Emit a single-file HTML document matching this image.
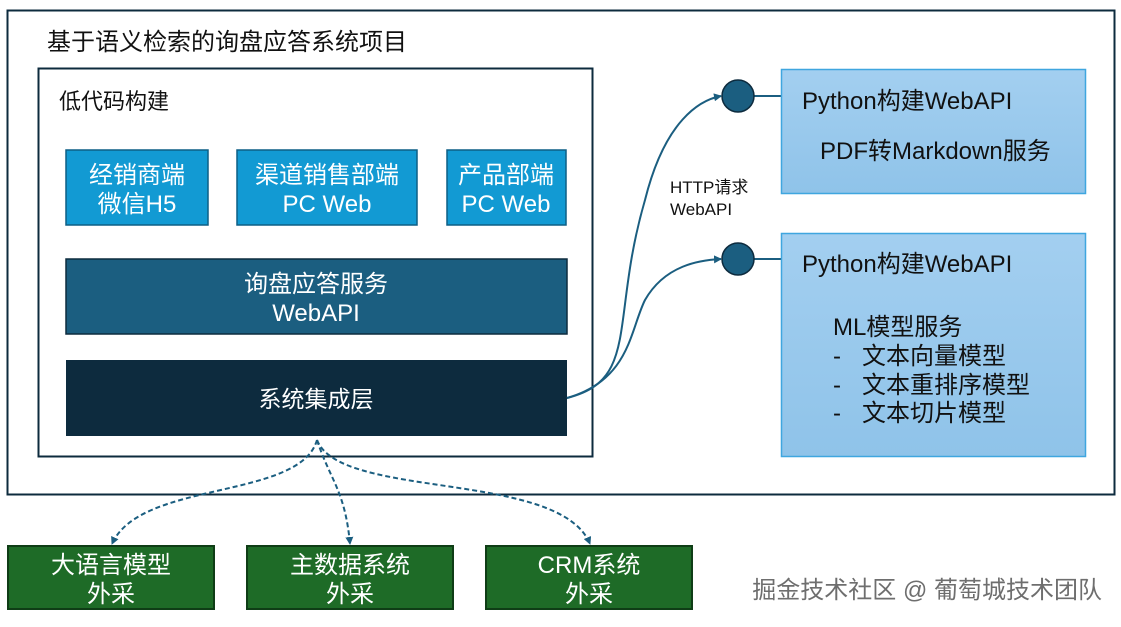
<!DOCTYPE html>
<html><head><meta charset="utf-8"><style>
body{margin:0;background:#fff;width:1121px;height:622px;overflow:hidden}
svg text{font-family:"Liberation Sans","Noto Sans CJK SC",sans-serif}
</style></head><body>
<svg width="1121" height="622" xmlns="http://www.w3.org/2000/svg">
<defs>
<linearGradient id="g" x1="0" y1="0" x2="0" y2="1"><stop offset="0" stop-color="#a3cff0"/><stop offset="1" stop-color="#8fc3e9"/></linearGradient>
<marker id="a" markerWidth="8" markerHeight="8" refX="7" refY="4" orient="auto" markerUnits="userSpaceOnUse"><path d="M0,0 L8,4 L0,8 z" fill="#1b5e80"/></marker>
</defs>
<rect x="7.5" y="10.5" width="1107" height="484" fill="#fff" stroke="#0d2b3e" stroke-width="2"/>
<text x="47" y="50" font-size="24" fill="#111">基于语义检索的询盘应答系统项目</text>
<rect x="38.5" y="68.5" width="554" height="388" fill="#fff" stroke="#0d2b3e" stroke-width="2"/>
<text x="59" y="109" font-size="22" fill="#111">低代码构建</text>
<g fill="#129ad3" stroke="#0d5f85" stroke-width="1.5">
<rect x="66" y="150" width="142" height="75"/><rect x="237" y="150" width="180" height="75"/><rect x="447" y="150" width="119" height="75"/></g>
<g fill="#fff" font-size="24" text-anchor="middle">
<text x="137" y="183">经销商端</text><text x="137" y="212">微信H5</text>
<text x="327" y="183">渠道销售部端</text><text x="327" y="212">PC Web</text>
<text x="506" y="183">产品部端</text><text x="506" y="212">PC Web</text>
</g>
<rect x="66" y="259" width="501" height="75" fill="#1b5e80" stroke="#0d2b3e" stroke-width="1.5"/>
<text x="316" y="292" font-size="24" fill="#fff" text-anchor="middle">询盘应答服务</text>
<text x="316" y="321" font-size="24" fill="#fff" text-anchor="middle">WebAPI</text>
<rect x="66" y="360" width="501" height="76" fill="#0d2b3e"/>
<text x="316" y="407" font-size="23" fill="#fff" text-anchor="middle">系统集成层</text>
<path d="M567,398 C640,380 610,320 645,200 C665,120 700,100 721,96" fill="none" stroke="#1b5e80" stroke-width="2" marker-end="url(#a)"/>
<path d="M567,398 C630,380 630,330 645,300 C665,265 700,260 721,259" fill="none" stroke="#1b5e80" stroke-width="2" marker-end="url(#a)"/>
<text x="670" y="193" font-size="17" fill="#111">HTTP请求</text>
<text x="670" y="215" font-size="17" fill="#111">WebAPI</text>
<line x1="754" y1="96" x2="782" y2="96" stroke="#1b5e80" stroke-width="2"/>
<line x1="754" y1="259" x2="782" y2="259" stroke="#1b5e80" stroke-width="2"/>
<circle cx="738" cy="96" r="16" fill="#1b5e80" stroke="#0d2b3e" stroke-width="1.5"/>
<circle cx="738" cy="259" r="16" fill="#1b5e80" stroke="#0d2b3e" stroke-width="1.5"/>
<rect x="781.5" y="69.5" width="304" height="124" fill="url(#g)" stroke="#3fa6df" stroke-width="1.5"/>
<rect x="781.5" y="233.5" width="304" height="223" fill="url(#g)" stroke="#3fa6df" stroke-width="1.5"/>
<g font-size="24" fill="#111">
<text x="802" y="109">Python构建WebAPI</text>
<text x="820" y="159">PDF转Markdown服务</text>
<text x="802" y="272">Python构建WebAPI</text>
<text x="833" y="335">ML模型服务</text>
<text x="833" y="364">-</text><text x="862" y="364">文本向量模型</text>
<text x="833" y="393">-</text><text x="862" y="393">文本重排序模型</text>
<text x="833" y="421">-</text><text x="862" y="421">文本切片模型</text>
</g>
<g fill="none" stroke="#1b5e80" stroke-width="2" stroke-dasharray="5,3" marker-end="url(#a)">
<path d="M317,440 C300,500 140,480 112,544"/>
<path d="M317,440 C330,480 345,490 350,544"/>
<path d="M317,440 C340,500 560,470 590,544"/>
</g>
<g fill="#1e6b27" stroke="#0f3d16" stroke-width="2">
<rect x="8" y="546" width="206" height="63"/><rect x="247" y="546" width="206" height="63"/><rect x="486" y="546" width="206" height="63"/></g>
<g fill="#fff" font-size="24" text-anchor="middle">
<text x="111" y="573">大语言模型</text><text x="111" y="602">外采</text>
<text x="350" y="573">主数据系统</text><text x="350" y="602">外采</text>
<text x="589" y="573">CRM系统</text><text x="589" y="602">外采</text>
</g>
<text x="1102" y="598" font-size="24" fill="#555" text-anchor="end" opacity="0.85">掘金技术社区 @ 葡萄城技术团队</text>
</svg>
</body></html>
